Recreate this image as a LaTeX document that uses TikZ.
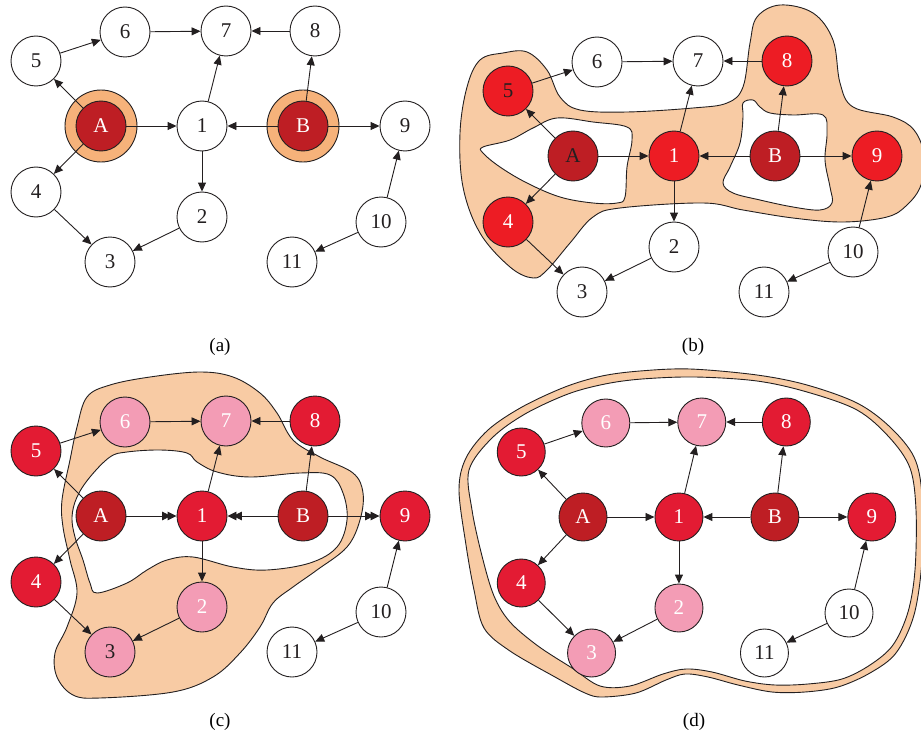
\documentclass[tikz,border=0pt]{standalone}
\usepackage{fontspec}
\setmainfont{Liberation Serif}
\usepackage{tikz}
\usetikzlibrary{arrows.meta}

\definecolor{ink}{HTML}{231F20}
\definecolor{peach}{HTML}{F8CBA4}
\definecolor{ringorange}{HTML}{F6B27A}
\definecolor{darkred}{HTML}{BE1E24}
\definecolor{brightred}{HTML}{ED1C24}
\definecolor{crimson}{HTML}{E31B33}
\definecolor{rose}{HTML}{F39CB5}

\tikzset{
  vertex/.style={circle, draw=ink, line width=0.9pt, fill=white, text=ink,
    minimum size=50pt, inner sep=0pt, font=\fontsize{21}{21}\selectfont},
  src/.style={fill=darkred, text=white},
  hit/.style={},
  mid/.style={},
  far/.style={},
  edge/.style={draw=ink, line width=0.9pt, -{Triangle[length=9pt,width=8pt]}},
  twin/.style={-{Triangle[length=9pt,width=8.5pt,sep=-3.5pt]Triangle[length=9pt,width=8.5pt]}},
  blob/.style={fill=peach, draw=ink, line width=0.9pt, even odd rule},
  caption/.style={font=\fontsize{19}{19}\selectfont}
}

% one copy of the graph, placed relative to A; #1 prefixes the node names,
% #2 is the tip used on the edges leaving the sources
\newcommand{\drawgraph}[2]{%
  \foreach \id/\x/\y/\g in {A/0/0/src, 1/101/0/hit, B/202/0/src, 9/304/0/hit,
      5/-65/-65/hit, 6/24/-94/mid, 7/125/-95/mid, 8/214/-95/hit,
      4/-65/66/hit, 2/101/91/mid, 3/9/136/mid, 10/280/96/far, 11/191/136/far}
    \node[vertex, \g, v\id/.try] (#1\id) at (\x,\y) {\id};
  \foreach \s/\t in {5/6, 6/7, 8/7, A/5, A/4, 1/7, 1/2, B/8, 4/3, 2/3, 10/9, 10/11}
    \draw[edge] (#1\s) -- (#1\t);
  \foreach \s/\t in {A/1, B/1, B/9}
    \draw[edge, #2] (#1\s) -- (#1\t);
}

\begin{document}
\begin{tikzpicture}[x=1pt, y=-1pt]
  \useasboundingbox (0,0) rectangle (921,741);

  % (b) shaded region with two holes
  \filldraw[blob]
    plot[smooth cycle, tension=0.6] coordinates {(467,87) (480,60) (503,53) (527,52)
      (547,70) (560,97) (580,110) (627,112) (693,108) (727,103) (743,87) (750,43)
      (757,17) (780,5) (813,13) (833,40) (840,83) (853,107) (893,117) (914,130)
      (924,155) (921,185) (907,205) (887,217) (843,222) (793,218) (743,210)
      (703,203) (620,208) (593,217) (570,243) (547,270) (533,278) (510,267)
      (480,233) (463,187) (460,133)}
    plot[smooth cycle, tension=0.6] coordinates {(483,147) (510,140) (533,128)
      (557,118) (593,122) (627,127) (632,140) (627,167) (625,197) (617,203)
      (593,203) (560,197) (527,183) (500,167) (483,153)}
    plot[smooth cycle, tension=0.6] coordinates {(743,103) (753,100) (760,107)
      (770,113) (793,115) (823,115) (827,133) (825,160) (830,187) (832,203)
      (820,210) (793,207) (760,200) (733,193) (723,183) (730,167) (740,143)
      (743,117)};

  % (c) shaded region around the inner loop
  \filldraw[blob]
    plot[smooth cycle, tension=0.6] coordinates {(77,427) (87,397) (110,385)
      (150,377) (200,372) (233,377) (260,393) (277,413) (293,440) (320,457)
      (353,473) (363,493) (360,520) (347,547) (317,570) (293,587) (273,603)
      (260,627) (240,653) (213,677) (173,692) (100,698) (73,695) (57,677)
      (55,653) (67,627) (77,593) (70,560) (63,527) (62,500) (70,460)}
    plot[smooth cycle, tension=0.6] coordinates {(97,593) (127,583) (147,570)
      (167,560) (193,557) (233,567) (267,570) (310,563) (337,547) (347,520)
      (343,493) (330,475) (300,473) (250,477) (217,472) (197,462) (187,453)
      (160,450) (127,452) (110,457) (90,477) (77,497) (72,517) (75,537)
      (83,560) (90,583)};

  % (d) band around the whole graph
  \filldraw[blob]
    plot[smooth cycle, tension=0.55] coordinates {(459,490) (466,458) (488,430)
      (522,407) (565,387) (602,376) (640,371) (690,369) (757,375) (807,385)
      (857,403) (890,427) (914,457) (922,495) (922,560) (914,615) (896,653)
      (870,673) (838,687) (805,692) (772,692) (738,685) (708,677) (685,674)
      (666,680) (636,693) (602,697) (585,693) (555,677) (510,651) (484,628)
      (474,590) (466,545)}
    plot[smooth cycle, tension=0.55] coordinates {(469,470) (492,438) (525,414)
      (568,394) (605,384) (642,379) (695,377) (757,381) (807,392) (857,410)
      (889,437) (910,468) (916,510) (915,570) (908,612) (893,645) (870,665)
      (842,679) (808,684) (775,685) (745,681) (712,672) (686,669) (663,674)
      (630,686) (600,686) (572,668) (538,646) (510,622) (494,596) (482,556)
      (472,510)};

  % (a) sources marked with rings
  \begin{scope}[shift={(101,126)}]
    \filldraw[fill=ringorange, draw=ink, line width=0.9pt]
      (0,0) circle (36pt) (202,0) circle (36pt);
    \drawgraph{a}{}
  \end{scope}

  % (b)
  \begin{scope}[shift={(573,156)}, hit/.style={fill=brightred, text=white},
      v5/.style={text=ink}, vA/.style={text=ink}]
    \drawgraph{b}{}
  \end{scope}

  % (c)
  \begin{scope}[shift={(101,516)}, hit/.style={fill=crimson, text=white},
      mid/.style={fill=rose, text=white}, v3/.style={text=ink}]
    \drawgraph{c}{twin}
  \end{scope}

  % (d)
  \begin{scope}[shift={(583,517)}, xscale=0.95, vertex/.append style={minimum size=48pt},
      hit/.style={fill=crimson, text=white}, mid/.style={fill=rose, text=white}]
    \drawgraph{d}{}
  \end{scope}

  % captions
  \node[caption] (capa) at (220,347) {(a)};
  \node[caption] (capb) at (693,347) {(b)};
  \node[caption] (capc) at (220,722) {(c)};
  \node[caption] (capd) at (694,722) {(d)};
\end{tikzpicture}
\end{document}
